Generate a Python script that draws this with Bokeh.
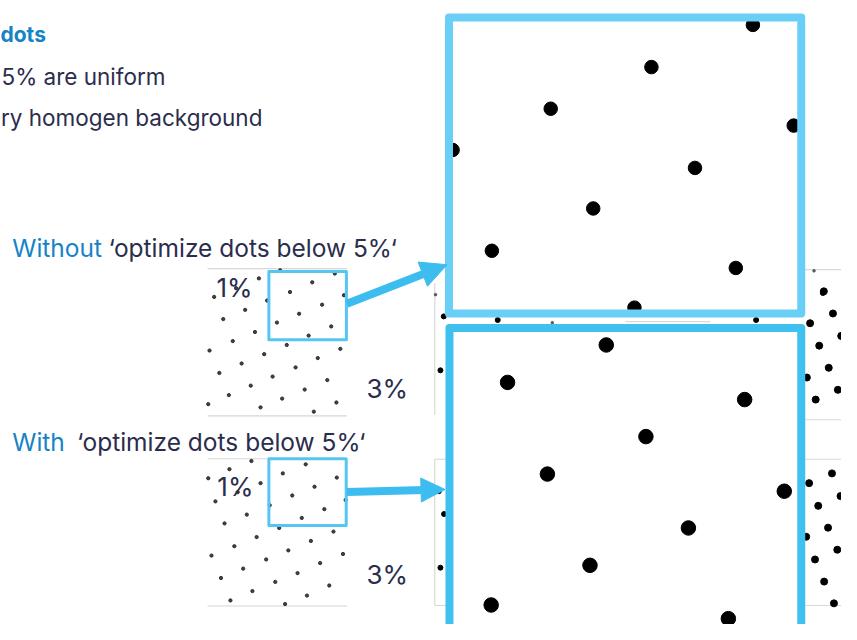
from bokeh.plotting import figure
from bokeh.models import Range1d, Arrow, NormalHead
from bokeh.core.properties import value
from bokeh.embed import file_html
from bokeh.resources import INLINE

# ---------------- data ----------------
# small "1%" panel dots (without optimization)
small_top_x = [285.0, 340.7, 263.3, 317.7, 240.0, 295.0, 217.7, 350.0, 271.7, 327.7, 249.3, 304.3,
               227.0, 281.7, 337.0, 259.3, 314.0, 236.7, 291.7, 213.0, 346.3, 268.7, 323.3, 245.7,
               300.7, 223.0, 277.3, 333.0, 255.0, 310.0, 232.7, 287.0, 342.3, 211.7, 265.0, 319.3]
small_top_y = [276.7, 280.0, 285.0, 289.0, 295.0, 299.0, 304.0, 302.3, 307.7, 312.0, 317.3, 321.3,
               326.7, 330.3, 334.3, 340.0, 343.7, 349.3, 353.3, 359.0, 357.3, 362.7, 366.7, 372.3,
               376.3, 382.0, 385.7, 389.3, 395.0, 399.0, 404.7, 408.3, 412.3, 414.0, 417.3, 421.7]
# small "1%" panel dots (with optimization)
small_bot_x = [255.7, 311.0, 233.3, 211.7, 287.7, 342.7, 265.0, 320.0, 241.7, 297.3, 219.0, 351.7,
               274.3, 330.0, 251.0, 307.0, 228.3, 284.0, 339.3, 261.0, 316.3, 238.3, 293.3, 215.0,
               349.0, 270.7, 325.7, 247.3, 302.7, 224.7, 280.0, 335.0, 256.7, 312.3, 234.3, 290.0]
small_bot_y = [472.3, 475.7, 480.7, 490.0, 485.0, 489.3, 495.0, 498.7, 504.3, 507.7, 513.7, 512.3,
               517.7, 521.7, 527.3, 530.7, 536.3, 541.0, 544.7, 550.3, 554.3, 559.7, 564.0, 569.3,
               567.7, 573.3, 577.0, 582.7, 587.3, 592.3, 596.3, 600.0, 605.7, 610.3, 615.3, 619.0]
# background (3%) dots around the zoom frames
bg_x = [839.0, 848.3, 825.0, 856.7, 834.3, 844.0, 821.7, 853.3, 830.7,
        847.3, 824.0, 856.0, 833.3, 843.3, 821.0, 852.7, 830.0, 839.3, 849.3,
        451.7, 506.7, 770.0, 448.3, 446.7, 448.3, 452.0, 838.0]
bg_y = [298.3, 321.0, 331.0, 344.0, 354.0, 376.7, 386.7, 399.3, 409.3,
        485.0, 495.0, 508.3, 518.3, 540.7, 550.0, 563.3, 573.3, 596.0, 618.3,
        324.0, 327.7, 327.7, 379.3, 503.3, 581.7, 526.7, 300.0]
bg_s = [7, 7, 7, 7, 7, 7, 7, 7, 7,
        7, 7, 7, 7, 7, 7, 7, 7, 7, 7,
        5, 5, 5, 5, 5, 5, 5, 5]
tiny_x = [562.3, 829.0, 443.3]
tiny_y = [330.5, 277.3, 301.7]
# zoomed dots: without optimization (top frame)
big_top_x = [766.7, 663.3, 560.7, 808.3, 460.7, 707.7, 604.0, 500.7, 749.3, 646.0]
big_top_y = [25.0, 68.3, 111.0, 128.3, 153.3, 171.7, 213.3, 256.7, 274.3, 315.0]
# zoomed dots: with optimization (bottom frame)
big_bot_x = [617.3, 516.7, 758.3, 657.7, 557.3, 798.7, 701.0, 600.7, 500.0, 741.7]
big_bot_y = [353.3, 391.7, 409.3, 447.3, 485.7, 503.3, 541.0, 579.3, 620.0, 634.0]

NAVY = "#2b2d4c"
BLUE = "#1683c6"
FRAME_TOP = "#6acff6"
FRAME_BOT = "#3fc0ef"
ARROW = "#3dbdef"
FONT = value("Inter")

p = figure(width=841, height=624, x_range=Range1d(0, 857), y_range=Range1d(640, 0),
           output_backend="svg", toolbar_location=None, min_border=0,
           x_axis_type=None, y_axis_type=None)
p.grid.visible = False
p.outline_line_color = None
p.background_fill_color = "white"
p.border_fill_color = "white"

# small panel borders (light gray)
p.segment(x0=[211, 211, 211, 211], y0=[275, 426, 470, 621], x1=[353, 353, 353, 353], y1=[275, 426, 470, 621],
          line_color="#d6d6d6", line_width=1.2)
# background image borders
p.segment(x0=[442.5, 442.5, 820, 820, 820, 442.5, 442.5, 820, 636.7],
          y0=[290, 470.5, 276, 430, 470.5, 470.5, 620.5, 620.5, 329.3],
          x1=[442.5, 442.5, 857, 857, 857, 454, 454, 857, 723.3],
          y1=[425, 620.5, 276, 430, 470.5, 470.5, 620.5, 620.5, 329.3],
          line_color="#d9d9d9", line_width=1.2)

# small dots
p.scatter(small_top_x, small_top_y, size=3.3, color="#222222", alpha=0.85)
p.scatter(small_bot_x, small_bot_y, size=3.3, color="#222222", alpha=0.85)
p.scatter(bg_x, bg_y, size=bg_s, color="black")
p.scatter(tiny_x, tiny_y, size=2.5, color="#555555")

# small highlight rects
p.quad(left=[273.5, 273.5], right=[352.5, 352.3], top=[278, 470], bottom=[348, 538.5],
       fill_color=None, line_color="#55c6f2", line_width=3, line_join="round")

# big frames interior
p.quad(left=[457], right=[816], top=[17.5], bottom=[321], fill_color="white", line_color=None)
p.quad(left=[457.5], right=[816], top=[336], bottom=[720], fill_color="white", line_color=None)
p.scatter(big_top_x, big_top_y, size=13.5, color="black")
p.scatter(big_bot_x, big_bot_y, size=14.5, color="black")
p.quad(left=[457], right=[816], top=[17.5], bottom=[321], fill_color=None,
       line_color=FRAME_TOP, line_width=8, line_join="round")
p.quad(left=[457.5], right=[816], top=[336], bottom=[720], fill_color=None,
       line_color=FRAME_BOT, line_width=8, line_join="round")

# arrows
p.add_layout(Arrow(end=NormalHead(size=26, fill_color=ARROW, line_color=ARROW),
                   x_start=353, y_start=311, x_end=455, y_end=271,
                   line_color=ARROW, line_width=8))
p.add_layout(Arrow(end=NormalHead(size=24, fill_color=ARROW, line_color=ARROW),
                   x_start=353, y_start=504, x_end=453, y_end=501.5,
                   line_color=ARROW, line_width=8))

# texts
p.text(x=[0], y=[35], text=["dots"], text_color=BLUE, text_font=FONT, text_font_size="21px",
       text_font_style="bold", text_align="left", text_baseline="alphabetic")
p.text(x=[1, 0.5], y=[78, 120], text=["5% are uniform", "ry homogen background"], text_color=NAVY,
       text_font=FONT, text_font_size="22.5px", text_align="left", text_baseline="alphabetic")
p.text(x=[12, 12], y=[254, 453], text=["Without", "With"], text_color=BLUE, text_font=FONT,
       text_font_size="24.5px", text_baseline="alphabetic")
p.text(x=[110, 78], y=[254, 453], text=["\u2018optimize dots below 5%\u2018", "\u2018optimize dots below 5%\u2018"],
       text_color=NAVY, text_font=FONT, text_font_size="24.5px", text_baseline="alphabetic")
p.text(x=[220, 221], y=[294, 498], text=["1%", "1%"], text_color=NAVY, text_font=FONT,
       text_font_size="26px", text_baseline="alphabetic")
p.text(x=[373, 373], y=[398, 589], text=["3%", "3%"], text_color=NAVY, text_font=FONT,
       text_font_size="26px", text_baseline="alphabetic")

open("out.html", "w").write(file_html(p, INLINE))
